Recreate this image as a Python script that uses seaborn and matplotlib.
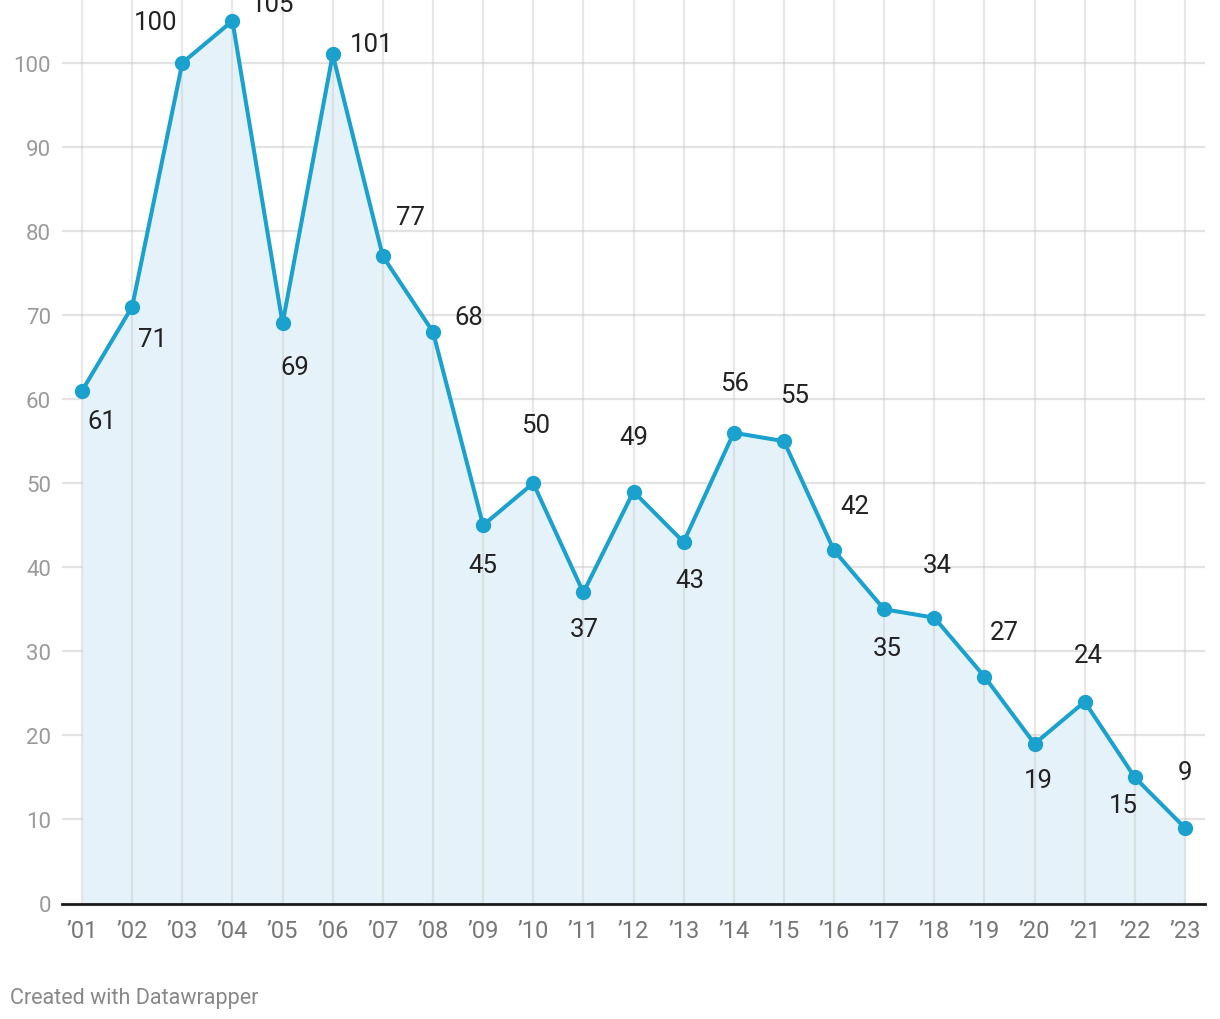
import matplotlib
matplotlib.use('Agg')
import pandas as pd
import seaborn as sns
import matplotlib.pyplot as plt

years = ['’01', '’02', '’03', '’04', '’05', '’06', '’07', '’08', '’09', '’10', '’11', '’12',
         '’13', '’14', '’15', '’16', '’17', '’18', '’19', '’20', '’21', '’22', '’23']
values = [61, 71, 100, 105, 69, 101, 77, 68, 45, 50, 37, 49, 43, 56, 55, 42, 35, 34, 27, 19, 24, 15, 9]
y_ticks = [0, 10, 20, 30, 40, 50, 60, 70, 80, 90, 100]

# label offsets in pixels (dx, dy up-positive), mimicking datawrapper placement
label_offsets = [(20, -30), (20, -32), (-27, 41), (40, 17), (12, -44), (39, 10), (28, 39),
                 (36, 15), (0, -40), (2, 58), (1, -37), (0, 55), (6, -38), (1, 50),
                 (11, 46), (21, 44), (3, -39), (3, 53), (20, 45), (4, -36), (4, 47),
                 (-12, -28), (0, 56)]

line_color = '#1aa1ce'

df = pd.DataFrame({'x': range(len(years)), 'value': values})

sns.set_theme(style='white')
plt.rcParams['font.family'] = ['Roboto', 'DejaVu Sans']

fig = plt.figure(figsize=(12.2, 10.2), dpi=100)
ax = fig.add_axes([62 / 1220, 1 - 904.5 / 1020, (1205 - 62) / 1220, 904.5 / 1020])

ax.fill_between(df['x'], df['value'], 0, color='#e5f2f9', zorder=1, linewidth=0)
sns.lineplot(data=df, x='x', y='value', ax=ax, color=line_color, linewidth=2.9,
             marker='o', markersize=11, markeredgewidth=0, zorder=3)

for i, v in enumerate(values):
    dx, dy = label_offsets[i]
    ax.annotate(str(v), (i, v), xytext=(dx, dy), textcoords='offset pixels',
                ha='center', va='center', fontsize=18.5, color='#222222',
                annotation_clip=False, zorder=4)

ax.set_xlim(-0.4, len(years) - 1 + 0.4)
ax.set_ylim(0, 107.6)
ax.set_xticks(range(len(years)))
ax.set_xticklabels(years)
ax.set_yticks(y_ticks)
ax.set_xlabel('')
ax.set_ylabel('')

for xv in range(len(years)):
    ax.axvline(xv, color='#c6c6c6', alpha=0.4, linewidth=1.6, zorder=2)
for yv in y_ticks[1:]:
    ax.axhline(yv, color='#e3e3e3', linewidth=1.6, zorder=0.5)

for s in ['top', 'right', 'left']:
    ax.spines[s].set_visible(False)
ax.spines['bottom'].set_color('#1a1a1a')
ax.spines['bottom'].set_linewidth(2)
ax.spines['bottom'].set_zorder(5)

ax.tick_params(axis='x', length=0, pad=11, labelsize=17, labelcolor='#777777')
ax.tick_params(axis='y', length=0, pad=8, labelsize=16, labelcolor='#9a9a9a')

fig.text(10 / 1220, 1 - 999 / 1020, 'Created with Datawrapper', fontsize=15.5,
         color='#888888', ha='left', va='center')

fig.savefig('out.png', dpi=100)
